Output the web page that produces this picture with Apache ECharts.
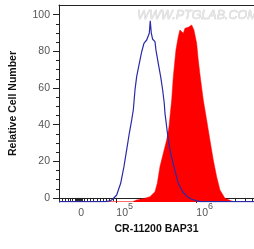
<!DOCTYPE html>
<html lang="en">
    <head>
        <meta charset="UTF-8" />
        <title>CR-11200 BAP31 flow histogram</title>
        <script src="https://cdn.jsdelivr.net/npm/echarts@6/dist/echarts.min.js"></script>
        <style>
            * {
                margin: 0;
                padding: 0;
            }
            #chart {
                width: 254px;
                height: 249px;
                background: #fff;
            }
        </style>
    </head>
    <body>
        <div id="chart"></div>
        <script type="text/javascript">
            // x is in display decades (biexponential axis): 5 = 10^5, 6 = 10^6
            const xMin = 4.279;
            const xMax = 6.717;
            const yMin = -2.2;
            const yMax = 105.3;

            // unstained control (blue outline)
            const blueX = [4.279, 4.854, 4.916, 4.95, 5.0, 5.05, 5.091, 5.125, 5.158, 5.188, 5.208, 5.229, 5.25, 5.283, 5.313, 5.341, 5.363, 5.375, 5.395, 5.408, 5.42, 5.433, 5.45, 5.466, 5.479, 5.491, 5.52, 5.55, 5.575, 5.595, 5.604, 5.625, 5.645, 5.675, 5.716, 5.77, 5.825, 5.883, 5.938, 6.0, 6.05, 6.717];
            const blueY = [-2, -2, -1.6, -0.7, 1.6, 8.0, 17.1, 26.2, 35.3, 42.6, 48.0, 58.9, 66.2, 73.5, 79.8, 84.4, 85.3, 86.2, 85.3, 89.9, 96.7, 89.9, 86.6, 85.8, 85.3, 80.8, 73.5, 66.2, 58.9, 51.7, 46.2, 38.9, 31.6, 24.4, 17.1, 8.0, 3.4, 0.7, -0.7, -1.6, -2, -2];

            // CR-11200 BAP31 stained (red fill)
            const redX = [4.279, 5.2, 5.25, 5.333, 5.416, 5.479, 5.508, 5.541, 5.583, 5.625, 5.654, 5.675, 5.688, 5.708, 5.741, 5.77, 5.791, 5.813, 5.833, 5.854, 5.875, 5.895, 5.916, 5.938, 5.966, 6.0, 6.02, 6.05, 6.083, 6.125, 6.166, 6.208, 6.25, 6.291, 6.354, 6.458, 6.717];
            const redY = [-2, -2, -1.1, -0.4, 0.7, 3.4, 8.0, 17.1, 24.4, 31.6, 38.9, 48.0, 53.5, 66.2, 80.7, 88.0, 91.7, 92.6, 89.9, 92.6, 91.7, 93.1, 93.8, 94.4, 91.7, 84.4, 75.3, 64.4, 53.5, 42.6, 31.6, 20.7, 11.6, 4.4, -0.2, -2, -2];

            // axis ticks and labels
            const xMajorTicks = [5, 6];
            const xLabelVals = [4.555, 5, 6];
            const xLabelText = ['0', '5', '6'];
            const xLowTicks = [4.316, 4.354, 4.395, 4.42, 4.445, 4.479, 4.491, 4.504, 4.516, 4.529, 4.541, 4.554, 4.566, 4.595, 4.629, 4.67, 4.713, 4.754, 4.795, 4.838, 4.87, 4.913, 4.954];
            const xDecadeSteps = [2, 3, 4, 5, 6, 7, 8, 9];
            const yMajorTicks = [0, 20, 40, 60, 80, 100];
            const yMinorTicks = [5, 10, 15, 25, 30, 35, 45, 50, 55, 65, 70, 75, 85, 90, 95];

            const xMinorTicks = xLowTicks.slice();
            [5, 6].forEach(function (d) {
                xDecadeSteps.forEach(function (k) {
                    const v = d + Math.log10(k);
                    if (v < xMax) xMinorTicks.push(v);
                });
            });

            const zip = (xs, ys) => xs.map((x, i) => [x, ys[i]]);

            const chart = echarts.init(document.getElementById('chart'));
            const labelFont = 'Arial, "Liberation Sans", sans-serif';
            const axisColor = '#222';

            const option = {
                animation: false,
                grid: { left: 59, right: 0, top: 5, bottom: 47 },
                graphic: [
                    {
                        type: 'text',
                        left: 137,
                        top: 9,
                        z: 0,
                        style: {
                            text: 'WWW.PTGLAB.COM',
                            font: 'italic 12.5px ' + labelFont,
                            fill: '#e6e6e6',
                            stroke: '#c4c4c4',
                            lineWidth: 0.5,
                        },
                    },
                ],
                xAxis: [
                    {
                        type: 'value',
                        min: xMin,
                        max: xMax,
                        position: 'bottom',
                        name: 'CR-11200 BAP31',
                        nameLocation: 'middle',
                        nameGap: 21,
                        nameTextStyle: { fontFamily: labelFont, fontWeight: 'bold', fontSize: 10.5, color: '#111' },
                        axisLine: { lineStyle: { color: axisColor, width: 1 } },
                        axisTick: { customValues: xMajorTicks, length: 5, lineStyle: { color: axisColor } },
                        axisLabel: {
                            customValues: xLabelVals,
                            margin: 5,
                            color: '#555',
                            fontFamily: labelFont,
                            formatter: function (v) {
                                const i = xLabelVals.indexOf(v);
                                const t = xLabelText[i];
                                if (t === '0') return '{z|0}';
                                return '{b|10}{s|' + t + '}';
                            },
                            rich: {
                                z: { fontSize: 10.5, lineHeight: 12, padding: [7, 0, 0, 0], color: '#555', verticalAlign: 'bottom' },
                                b: { fontSize: 10.5, lineHeight: 12, padding: [0, 0, 0, 16], color: '#555', verticalAlign: 'bottom' },
                                s: { fontSize: 9, lineHeight: 11, padding: [0, 0, 8, 0], color: '#555', verticalAlign: 'bottom' },
                            },
                        },
                        splitLine: { show: false },
                    },
                    {
                        type: 'value',
                        min: xMin,
                        max: xMax,
                        position: 'bottom',
                        axisLine: { show: false },
                        axisTick: { customValues: xMinorTicks, length: 3, lineStyle: { color: axisColor } },
                        axisLabel: { show: false },
                        splitLine: { show: false },
                    },
                    {
                        type: 'value',
                        min: xMin,
                        max: xMax,
                        position: 'top',
                        axisLine: { lineStyle: { color: axisColor, width: 1 } },
                        axisTick: { show: false },
                        axisLabel: { show: false },
                        splitLine: { show: false },
                    },
                ],
                yAxis: [
                    {
                        type: 'value',
                        min: yMin,
                        max: yMax,
                        position: 'left',
                        name: 'Relative Cell Number',
                        nameLocation: 'middle',
                        nameGap: 40,
                        nameTextStyle: { fontFamily: labelFont, fontWeight: 'bold', fontSize: 10.5, color: '#111' },
                        axisLine: { show: true, lineStyle: { color: axisColor, width: 1 } },
                        axisTick: { customValues: yMajorTicks, length: 6, lineStyle: { color: axisColor } },
                        axisLabel: { customValues: yMajorTicks, margin: 9, color: '#555', fontSize: 10.5, fontFamily: labelFont },
                        splitLine: { show: false },
                    },
                    {
                        type: 'value',
                        min: yMin,
                        max: yMax,
                        position: 'left',
                        axisLine: { show: false },
                        axisTick: { customValues: yMinorTicks, length: 3, lineStyle: { color: axisColor } },
                        axisLabel: { show: false },
                        splitLine: { show: false },
                    },
                ],
                series: [
                    {
                        name: 'BAP31',
                        type: 'line',
                        xAxisIndex: 0,
                        yAxisIndex: 0,
                        data: zip(redX, redY),
                        showSymbol: false,
                        lineStyle: { width: 0.5, color: '#ff0000' },
                        areaStyle: { color: '#ff0000', opacity: 1, origin: 'start' },
                        z: 2,
                    },
                    {
                        name: 'control',
                        type: 'line',
                        xAxisIndex: 0,
                        yAxisIndex: 0,
                        data: zip(blueX, blueY),
                        showSymbol: false,
                        lineStyle: { width: 1.2, color: '#2a2aa8' },
                        z: 3,
                    },
                ],
            };

            chart.setOption(option);
        </script>
    </body>
</html>
